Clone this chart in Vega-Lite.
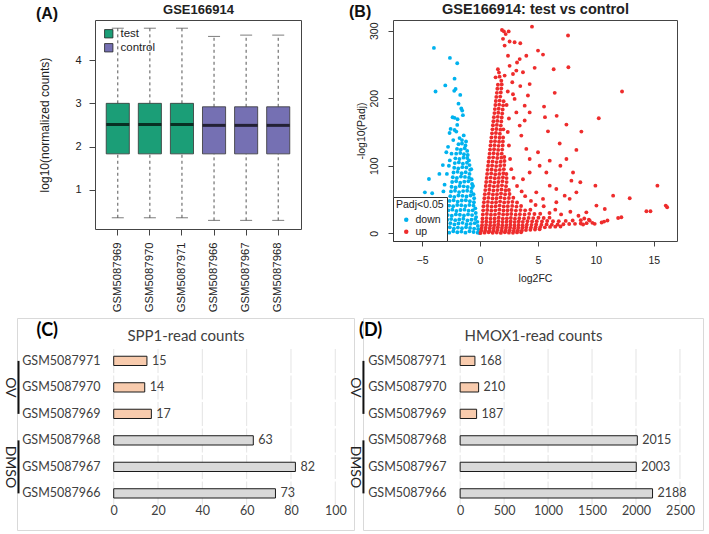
{
  "$schema": "https://vega.github.io/schema/vega-lite/v6.json",
  "background": "white",
  "padding": {"left": 2, "top": 0, "right": 2, "bottom": 1},
  "config": {
    "font": "Liberation Sans",
    "view": {"stroke": null},
    "axis": {"labelFont": "Liberation Sans", "titleFont": "Liberation Sans", "labelColor": "#222", "titleColor": "#222", "tickColor": "#444", "domainColor": "#444", "grid": false, "labelFlush": false, "labelOverlap": false},
    "legend": {"labelFont": "Liberation Sans", "titleFont": "Liberation Sans", "labelColor": "#222", "titleColor": "#222"},
    "title": {"font": "Liberation Sans", "color": "#111"}
  },
  "datasets": {
    "boxes": [
      {"sample": "GSM5087969", "group": "test", "lower": 0.35, "q1": 1.83, "median": 2.51, "q3": 3.0, "upper": 4.74},
      {"sample": "GSM5087970", "group": "test", "lower": 0.35, "q1": 1.83, "median": 2.51, "q3": 3.0, "upper": 4.74},
      {"sample": "GSM5087971", "group": "test", "lower": 0.35, "q1": 1.83, "median": 2.51, "q3": 3.0, "upper": 4.74},
      {"sample": "GSM5087966", "group": "control", "lower": 0.29, "q1": 1.83, "median": 2.49, "q3": 2.92, "upper": 4.55},
      {"sample": "GSM5087967", "group": "control", "lower": 0.29, "q1": 1.83, "median": 2.49, "q3": 2.92, "upper": 4.58},
      {"sample": "GSM5087968", "group": "control", "lower": 0.29, "q1": 1.83, "median": 2.49, "q3": 2.92, "upper": 4.58}
    ],
    "spp1": [
      {"sample": "GSM5087971", "group": "OV", "count": 15},
      {"sample": "GSM5087970", "group": "OV", "count": 14},
      {"sample": "GSM5087969", "group": "OV", "count": 17},
      {"sample": "GSM5087968", "group": "DMSO", "count": 63},
      {"sample": "GSM5087967", "group": "DMSO", "count": 82},
      {"sample": "GSM5087966", "group": "DMSO", "count": 73}
    ],
    "hmox1": [
      {"sample": "GSM5087971", "group": "OV", "count": 168},
      {"sample": "GSM5087970", "group": "OV", "count": 210},
      {"sample": "GSM5087969", "group": "OV", "count": 187},
      {"sample": "GSM5087968", "group": "DMSO", "count": 2015},
      {"sample": "GSM5087967", "group": "DMSO", "count": 2003},
      {"sample": "GSM5087966", "group": "DMSO", "count": 2188}
    ],
    "groups": [
      {"group": "OV", "from": "GSM5087971", "to": "GSM5087969", "mid": "GSM5087970"},
      {"group": "DMSO", "from": "GSM5087968", "to": "GSM5087966", "mid": "GSM5087967"}
    ],
    "volcano": [
      {"fc":-3.0,"p":2,"g":"down"},{"fc":-2.65,"p":1,"g":"down"},{"fc":-2.3,"p":3,"g":"down"},{"fc":-1.95,"p":1.5,"g":"down"},{"fc":-1.6,"p":2.5,"g":"down"},{"fc":-1.25,"p":1,"g":"down"},{"fc":-0.9,"p":3,"g":"down"},{"fc":-0.55,"p":2,"g":"down"},{"fc":-0.2,"p":1,"g":"down"},{"fc":-0.05,"p":0.5,"g":"down"},
      {"fc":-2.94,"p":8,"g":"down"},{"fc":-2.6,"p":9,"g":"down"},{"fc":-2.25,"p":7,"g":"down"},{"fc":-1.9,"p":8.5,"g":"down"},{"fc":-1.55,"p":7.5,"g":"down"},{"fc":-1.2,"p":9,"g":"down"},{"fc":-0.85,"p":8,"g":"down"},{"fc":-0.5,"p":7,"g":"down"},{"fc":-0.15,"p":6,"g":"down"},
      {"fc":-2.89,"p":14,"g":"down"},{"fc":-2.55,"p":15,"g":"down"},{"fc":-2.2,"p":13,"g":"down"},{"fc":-1.85,"p":14.5,"g":"down"},{"fc":-1.5,"p":15.5,"g":"down"},{"fc":-1.15,"p":13.5,"g":"down"},{"fc":-0.8,"p":14,"g":"down"},{"fc":-0.45,"p":15,"g":"down"},{"fc":-0.18,"p":11,"g":"down"},
      {"fc":-2.82,"p":20,"g":"down"},{"fc":-2.48,"p":21,"g":"down"},{"fc":-2.13,"p":19.5,"g":"down"},{"fc":-1.78,"p":20.5,"g":"down"},{"fc":-1.43,"p":21.5,"g":"down"},{"fc":-1.08,"p":19,"g":"down"},{"fc":-0.73,"p":20,"g":"down"},{"fc":-0.4,"p":21,"g":"down"},{"fc":-0.22,"p":17,"g":"down"},
      {"fc":-2.78,"p":27,"g":"down"},{"fc":-2.43,"p":26,"g":"down"},{"fc":-2.08,"p":28,"g":"down"},{"fc":-1.73,"p":27.5,"g":"down"},{"fc":-1.38,"p":26.5,"g":"down"},{"fc":-1.03,"p":28,"g":"down"},{"fc":-0.68,"p":27,"g":"down"},{"fc":-0.33,"p":24,"g":"down"},
      {"fc":-2.72,"p":34,"g":"down"},{"fc":-2.38,"p":35,"g":"down"},{"fc":-2.03,"p":33,"g":"down"},{"fc":-1.68,"p":34.5,"g":"down"},{"fc":-1.33,"p":35,"g":"down"},{"fc":-0.98,"p":33.5,"g":"down"},{"fc":-0.63,"p":34,"g":"down"},{"fc":-0.36,"p":30,"g":"down"},
      {"fc":-2.66,"p":41,"g":"down"},{"fc":-2.31,"p":40,"g":"down"},{"fc":-1.96,"p":42,"g":"down"},{"fc":-1.61,"p":41.5,"g":"down"},{"fc":-1.26,"p":40.5,"g":"down"},{"fc":-0.91,"p":42,"g":"down"},{"fc":-0.56,"p":41,"g":"down"},{"fc":-0.4,"p":37,"g":"down"},
      {"fc":-2.62,"p":48,"g":"down"},{"fc":-2.27,"p":49,"g":"down"},{"fc":-1.92,"p":47,"g":"down"},{"fc":-1.57,"p":48.5,"g":"down"},{"fc":-1.22,"p":49,"g":"down"},{"fc":-0.87,"p":47.5,"g":"down"},{"fc":-0.52,"p":46,"g":"down"},
      {"fc":-2.56,"p":55,"g":"down"},{"fc":-2.21,"p":54,"g":"down"},{"fc":-1.86,"p":56,"g":"down"},{"fc":-1.51,"p":55.5,"g":"down"},{"fc":-1.16,"p":54.5,"g":"down"},{"fc":-0.81,"p":56,"g":"down"},{"fc":-0.5,"p":52,"g":"down"},
      {"fc":-2.5,"p":62,"g":"down"},{"fc":-2.15,"p":63,"g":"down"},{"fc":-1.8,"p":61,"g":"down"},{"fc":-1.45,"p":62.5,"g":"down"},{"fc":-1.1,"p":63,"g":"down"},{"fc":-0.75,"p":61.5,"g":"down"},{"fc":-0.55,"p":58,"g":"down"},
      {"fc":-2.45,"p":69,"g":"down"},{"fc":-2.1,"p":68,"g":"down"},{"fc":-1.75,"p":70,"g":"down"},{"fc":-1.4,"p":69.5,"g":"down"},{"fc":-1.05,"p":68.5,"g":"down"},{"fc":-0.7,"p":67,"g":"down"},
      {"fc":-2.4,"p":76,"g":"down"},{"fc":-2.05,"p":77,"g":"down"},{"fc":-1.7,"p":75,"g":"down"},{"fc":-1.35,"p":76.5,"g":"down"},{"fc":-1.0,"p":77,"g":"down"},{"fc":-0.68,"p":73,"g":"down"},
      {"fc":-2.34,"p":83,"g":"down"},{"fc":-1.99,"p":82,"g":"down"},{"fc":-1.64,"p":84,"g":"down"},{"fc":-1.29,"p":83.5,"g":"down"},{"fc":-0.94,"p":82.5,"g":"down"},{"fc":-0.72,"p":80,"g":"down"},
      {"fc":-2.28,"p":90,"g":"down"},{"fc":-1.93,"p":91,"g":"down"},{"fc":-1.58,"p":89,"g":"down"},{"fc":-1.23,"p":90.5,"g":"down"},{"fc":-0.9,"p":88,"g":"down"},
      {"fc":-2.22,"p":97,"g":"down"},{"fc":-1.87,"p":96,"g":"down"},{"fc":-1.52,"p":98,"g":"down"},{"fc":-1.17,"p":97.5,"g":"down"},{"fc":-0.85,"p":94,"g":"down"},
      {"fc":-2.17,"p":104,"g":"down"},{"fc":-1.82,"p":105,"g":"down"},{"fc":-1.47,"p":103,"g":"down"},{"fc":-1.12,"p":104.5,"g":"down"},{"fc":-0.9,"p":101,"g":"down"},
      {"fc":-2.12,"p":111,"g":"down"},{"fc":-1.77,"p":110,"g":"down"},{"fc":-1.42,"p":112,"g":"down"},{"fc":-1.1,"p":111.5,"g":"down"},{"fc":-0.95,"p":108,"g":"down"},
      {"fc":-2.05,"p":118,"g":"down"},{"fc":-1.7,"p":119,"g":"down"},{"fc":-1.38,"p":117,"g":"down"},{"fc":-1.05,"p":116,"g":"down"},
      {"fc":-1.98,"p":125,"g":"down"},{"fc":-1.65,"p":124,"g":"down"},{"fc":-1.32,"p":126,"g":"down"},{"fc":-1.1,"p":122,"g":"down"},
      {"fc":-1.85,"p":132,"g":"down"},{"fc":-1.55,"p":133,"g":"down"},{"fc":-1.25,"p":130,"g":"down"},
      {"fc":-3.97,"p":274.6,"g":"down"},{"fc":-2.59,"p":259.8,"g":"down"},{"fc":-1.96,"p":251.9,"g":"down"},{"fc":-2.19,"p":229,"g":"down"},{"fc":-2.1,"p":213.8,"g":"down"},{"fc":-2.22,"p":211,"g":"down"},{"fc":-3.83,"p":210,"g":"down"},{"fc":-2.99,"p":219,"g":"down"},{"fc":-1.61,"p":185,"g":"down"},{"fc":-1.53,"p":181.7,"g":"down"},{"fc":-1.47,"p":175,"g":"down"},{"fc":-2.36,"p":171.9,"g":"down"},{"fc":-2.19,"p":171,"g":"down"},{"fc":-1.93,"p":169,"g":"down"},{"fc":-1.96,"p":160.5,"g":"down"},{"fc":-2.53,"p":154.6,"g":"down"},{"fc":-2.19,"p":153,"g":"down"},{"fc":-2.62,"p":148.6,"g":"down"},{"fc":-2.04,"p":150.6,"g":"down"},{"fc":-1.55,"p":138,"g":"down"},{"fc":-1.76,"p":141,"g":"down"},{"fc":-3.2,"p":101,"g":"down"},{"fc":-2.68,"p":100,"g":"down"},{"fc":-4.4,"p":80.5,"g":"down"},{"fc":-4.75,"p":60.7,"g":"down"},{"fc":-4.12,"p":59.3,"g":"down"},{"fc":-3.68,"p":51,"g":"down"},{"fc":-1.4,"p":145,"g":"down"},{"fc":-2.3,"p":138,"g":"down"},{"fc":-2.45,"p":118,"g":"down"},{"fc":-2.6,"p":108,"g":"down"},{"fc":-2.85,"p":88,"g":"down"},{"fc":-3.05,"p":72,"g":"down"},{"fc":-3.15,"p":62,"g":"down"},{"fc":-3.3,"p":45,"g":"down"},{"fc":-3.5,"p":35,"g":"down"},{"fc":-3.4,"p":22,"g":"down"},{"fc":-3.8,"p":15,"g":"down"},{"fc":-3.25,"p":8,"g":"down"},{"fc":-2.75,"p":128,"g":"down"},{"fc":-1.2,"p":136,"g":"down"},{"fc":-0.75,"p":95,"g":"down"},{"fc":-0.6,"p":70,"g":"down"},{"fc":-1.85,"p":192,"g":"down"},{"fc":-1.7,"p":205,"g":"down"},{"fc":-2.9,"p":120,"g":"down"},{"fc":-3.5,"p":88,"g":"down"},
      {"fc":0.05,"p":0.5,"g":"up"},{"fc":0.4,"p":1,"g":"up"},{"fc":0.75,"p":1.5,"g":"up"},{"fc":1.1,"p":0.8,"g":"up"},{"fc":1.45,"p":1.2,"g":"up"},{"fc":1.8,"p":0.6,"g":"up"},{"fc":2.15,"p":1.4,"g":"up"},{"fc":2.5,"p":1,"g":"up"},{"fc":2.85,"p":0.7,"g":"up"},{"fc":3.2,"p":1.3,"g":"up"},{"fc":3.55,"p":1.6,"g":"up"},
      {"fc":0.12,"p":4,"g":"up"},{"fc":0.47,"p":4.5,"g":"up"},{"fc":0.82,"p":3.5,"g":"up"},{"fc":1.17,"p":4,"g":"up"},{"fc":1.52,"p":5,"g":"up"},{"fc":1.87,"p":3.8,"g":"up"},{"fc":2.22,"p":4.2,"g":"up"},{"fc":2.57,"p":4.6,"g":"up"},{"fc":2.92,"p":3.6,"g":"up"},{"fc":3.27,"p":4.4,"g":"up"},{"fc":3.62,"p":4,"g":"up"},{"fc":3.97,"p":4.8,"g":"up"},{"fc":4.35,"p":5.2,"g":"up"},{"fc":4.75,"p":5.6,"g":"up"},{"fc":5.15,"p":6,"g":"up"},
      {"fc":0.15,"p":8,"g":"up"},{"fc":0.5,"p":8.5,"g":"up"},{"fc":0.85,"p":7.5,"g":"up"},{"fc":1.2,"p":8,"g":"up"},{"fc":1.55,"p":9,"g":"up"},{"fc":1.9,"p":7.8,"g":"up"},{"fc":2.25,"p":8.2,"g":"up"},{"fc":2.6,"p":8.6,"g":"up"},{"fc":2.95,"p":7.6,"g":"up"},{"fc":3.3,"p":8.4,"g":"up"},{"fc":3.65,"p":8,"g":"up"},{"fc":4.0,"p":8.8,"g":"up"},{"fc":4.4,"p":8.5,"g":"up"},{"fc":4.8,"p":9,"g":"up"},{"fc":5.2,"p":9.2,"g":"up"},{"fc":5.6,"p":8.8,"g":"up"},{"fc":6.05,"p":9.5,"g":"up"},{"fc":6.5,"p":9.8,"g":"up"},{"fc":6.95,"p":10,"g":"up"},
      {"fc":0.18,"p":12,"g":"up"},{"fc":0.53,"p":12.5,"g":"up"},{"fc":0.88,"p":11.5,"g":"up"},{"fc":1.23,"p":12,"g":"up"},{"fc":1.58,"p":13,"g":"up"},{"fc":1.93,"p":11.8,"g":"up"},{"fc":2.28,"p":12.2,"g":"up"},{"fc":2.63,"p":12.6,"g":"up"},{"fc":2.98,"p":11.6,"g":"up"},{"fc":3.33,"p":12.4,"g":"up"},{"fc":3.68,"p":12,"g":"up"},{"fc":4.05,"p":12.8,"g":"up"},{"fc":4.45,"p":12.5,"g":"up"},{"fc":4.85,"p":13,"g":"up"},{"fc":5.3,"p":12.6,"g":"up"},{"fc":5.75,"p":13.2,"g":"up"},{"fc":6.2,"p":12.8,"g":"up"},{"fc":6.7,"p":13,"g":"up"},{"fc":7.2,"p":13.4,"g":"up"},{"fc":7.7,"p":13.8,"g":"up"},{"fc":8.2,"p":14,"g":"up"},{"fc":8.7,"p":14.5,"g":"up"},{"fc":9.2,"p":15,"g":"up"},{"fc":9.7,"p":15.5,"g":"up"},
      {"fc":0.2,"p":17,"g":"up"},{"fc":0.55,"p":17.5,"g":"up"},{"fc":0.9,"p":16.5,"g":"up"},{"fc":1.25,"p":17,"g":"up"},{"fc":1.6,"p":18,"g":"up"},{"fc":1.95,"p":16.8,"g":"up"},{"fc":2.3,"p":17.2,"g":"up"},{"fc":2.65,"p":17.6,"g":"up"},{"fc":3.0,"p":16.6,"g":"up"},{"fc":3.35,"p":17.4,"g":"up"},{"fc":3.7,"p":17,"g":"up"},{"fc":4.1,"p":17.8,"g":"up"},{"fc":4.5,"p":17.5,"g":"up"},{"fc":4.9,"p":18,"g":"up"},{"fc":5.35,"p":17.6,"g":"up"},{"fc":5.8,"p":18.2,"g":"up"},{"fc":6.3,"p":17.8,"g":"up"},{"fc":6.8,"p":18,"g":"up"},{"fc":7.4,"p":18.4,"g":"up"},{"fc":8.0,"p":19,"g":"up"},{"fc":8.7,"p":19.5,"g":"up"},{"fc":9.4,"p":20,"g":"up"},
      {"fc":0.22,"p":22,"g":"up"},{"fc":0.57,"p":22.5,"g":"up"},{"fc":0.92,"p":21.5,"g":"up"},{"fc":1.27,"p":22,"g":"up"},{"fc":1.62,"p":23,"g":"up"},{"fc":1.97,"p":21.8,"g":"up"},{"fc":2.32,"p":22.2,"g":"up"},{"fc":2.67,"p":22.6,"g":"up"},{"fc":3.02,"p":21.6,"g":"up"},{"fc":3.4,"p":22.4,"g":"up"},{"fc":3.8,"p":22,"g":"up"},{"fc":4.2,"p":22.8,"g":"up"},{"fc":4.6,"p":22.5,"g":"up"},{"fc":5.05,"p":23,"g":"up"},{"fc":5.5,"p":22.6,"g":"up"},{"fc":6.0,"p":23.2,"g":"up"},
      {"fc":0.25,"p":28,"g":"up"},{"fc":0.6,"p":28.5,"g":"up"},{"fc":0.95,"p":27.5,"g":"up"},{"fc":1.3,"p":28,"g":"up"},{"fc":1.65,"p":29,"g":"up"},{"fc":2.0,"p":27.8,"g":"up"},{"fc":2.35,"p":28.2,"g":"up"},{"fc":2.7,"p":28.6,"g":"up"},{"fc":3.08,"p":27.6,"g":"up"},{"fc":3.45,"p":28.4,"g":"up"},{"fc":3.85,"p":28,"g":"up"},{"fc":4.25,"p":28.8,"g":"up"},{"fc":4.7,"p":28.5,"g":"up"},{"fc":5.2,"p":29,"g":"up"},
      {"fc":0.28,"p":34,"g":"up"},{"fc":0.63,"p":34.5,"g":"up"},{"fc":0.98,"p":33.5,"g":"up"},{"fc":1.33,"p":34,"g":"up"},{"fc":1.68,"p":35,"g":"up"},{"fc":2.03,"p":33.8,"g":"up"},{"fc":2.38,"p":34.2,"g":"up"},{"fc":2.73,"p":34.6,"g":"up"},{"fc":3.1,"p":33.6,"g":"up"},{"fc":3.5,"p":34.4,"g":"up"},{"fc":3.9,"p":34,"g":"up"},{"fc":4.35,"p":34.8,"g":"up"},
      {"fc":0.3,"p":40,"g":"up"},{"fc":0.65,"p":40.5,"g":"up"},{"fc":1.0,"p":39.5,"g":"up"},{"fc":1.35,"p":40,"g":"up"},{"fc":1.7,"p":41,"g":"up"},{"fc":2.05,"p":39.8,"g":"up"},{"fc":2.4,"p":40.2,"g":"up"},{"fc":2.78,"p":40.6,"g":"up"},{"fc":3.15,"p":39.6,"g":"up"},{"fc":3.55,"p":40.4,"g":"up"},
      {"fc":0.34,"p":46,"g":"up"},{"fc":0.69,"p":46.5,"g":"up"},{"fc":1.04,"p":45.5,"g":"up"},{"fc":1.39,"p":46,"g":"up"},{"fc":1.74,"p":47,"g":"up"},{"fc":2.09,"p":45.8,"g":"up"},{"fc":2.44,"p":46.2,"g":"up"},{"fc":2.8,"p":46.6,"g":"up"},{"fc":3.2,"p":45.6,"g":"up"},
      {"fc":0.38,"p":52,"g":"up"},{"fc":0.73,"p":52.5,"g":"up"},{"fc":1.08,"p":51.5,"g":"up"},{"fc":1.43,"p":52,"g":"up"},{"fc":1.78,"p":53,"g":"up"},{"fc":2.13,"p":51.8,"g":"up"},{"fc":2.5,"p":52.2,"g":"up"},{"fc":2.88,"p":52.6,"g":"up"},
      {"fc":0.42,"p":58,"g":"up"},{"fc":0.77,"p":58.5,"g":"up"},{"fc":1.12,"p":57.5,"g":"up"},{"fc":1.47,"p":58,"g":"up"},{"fc":1.82,"p":59,"g":"up"},{"fc":2.17,"p":57.8,"g":"up"},{"fc":2.55,"p":58.2,"g":"up"},
      {"fc":0.46,"p":64,"g":"up"},{"fc":0.81,"p":64.5,"g":"up"},{"fc":1.16,"p":63.5,"g":"up"},{"fc":1.51,"p":64,"g":"up"},{"fc":1.86,"p":65,"g":"up"},{"fc":2.21,"p":63.8,"g":"up"},{"fc":2.5,"p":64.2,"g":"up"},
      {"fc":0.5,"p":70,"g":"up"},{"fc":0.85,"p":70.5,"g":"up"},{"fc":1.2,"p":69.5,"g":"up"},{"fc":1.55,"p":70,"g":"up"},{"fc":1.9,"p":71,"g":"up"},{"fc":2.25,"p":69.8,"g":"up"},
      {"fc":0.54,"p":76,"g":"up"},{"fc":0.89,"p":76.5,"g":"up"},{"fc":1.24,"p":75.5,"g":"up"},{"fc":1.59,"p":76,"g":"up"},{"fc":1.94,"p":77,"g":"up"},{"fc":2.3,"p":75.8,"g":"up"},
      {"fc":0.58,"p":82,"g":"up"},{"fc":0.93,"p":82.5,"g":"up"},{"fc":1.28,"p":81.5,"g":"up"},{"fc":1.63,"p":82,"g":"up"},{"fc":1.98,"p":83,"g":"up"},{"fc":2.3,"p":81.8,"g":"up"},
      {"fc":0.62,"p":88,"g":"up"},{"fc":0.97,"p":88.5,"g":"up"},{"fc":1.32,"p":87.5,"g":"up"},{"fc":1.67,"p":88,"g":"up"},{"fc":2.02,"p":89,"g":"up"},{"fc":2.28,"p":87.8,"g":"up"},
      {"fc":0.66,"p":94,"g":"up"},{"fc":1.01,"p":94.5,"g":"up"},{"fc":1.36,"p":93.5,"g":"up"},{"fc":1.71,"p":94,"g":"up"},{"fc":2.06,"p":95,"g":"up"},
      {"fc":0.7,"p":100,"g":"up"},{"fc":1.05,"p":100.5,"g":"up"},{"fc":1.4,"p":99.5,"g":"up"},{"fc":1.75,"p":100,"g":"up"},{"fc":2.1,"p":101,"g":"up"},
      {"fc":0.74,"p":106,"g":"up"},{"fc":1.09,"p":106.5,"g":"up"},{"fc":1.44,"p":105.5,"g":"up"},{"fc":1.79,"p":106,"g":"up"},{"fc":2.12,"p":107,"g":"up"},
      {"fc":0.79,"p":112,"g":"up"},{"fc":1.14,"p":112.5,"g":"up"},{"fc":1.49,"p":111.5,"g":"up"},{"fc":1.84,"p":112,"g":"up"},{"fc":2.1,"p":113,"g":"up"},
      {"fc":0.83,"p":118,"g":"up"},{"fc":1.18,"p":118.5,"g":"up"},{"fc":1.53,"p":117.5,"g":"up"},{"fc":1.88,"p":118,"g":"up"},
      {"fc":0.87,"p":124,"g":"up"},{"fc":1.22,"p":124.5,"g":"up"},{"fc":1.57,"p":123.5,"g":"up"},{"fc":1.92,"p":124,"g":"up"},
      {"fc":0.91,"p":130,"g":"up"},{"fc":1.26,"p":130.5,"g":"up"},{"fc":1.61,"p":129.5,"g":"up"},{"fc":1.96,"p":130,"g":"up"},
      {"fc":0.95,"p":136,"g":"up"},{"fc":1.3,"p":136.5,"g":"up"},{"fc":1.65,"p":135.5,"g":"up"},{"fc":1.98,"p":136,"g":"up"},
      {"fc":0.99,"p":142,"g":"up"},{"fc":1.34,"p":142.5,"g":"up"},{"fc":1.69,"p":141.5,"g":"up"},{"fc":2.0,"p":142,"g":"up"},
      {"fc":1.04,"p":148,"g":"up"},{"fc":1.38,"p":148.5,"g":"up"},{"fc":1.72,"p":147.5,"g":"up"},
      {"fc":1.08,"p":154,"g":"up"},{"fc":1.42,"p":154.5,"g":"up"},{"fc":1.76,"p":153.5,"g":"up"},{"fc":2.02,"p":154,"g":"up"},
      {"fc":1.12,"p":160,"g":"up"},{"fc":1.46,"p":160.5,"g":"up"},{"fc":1.8,"p":159.5,"g":"up"},
      {"fc":1.16,"p":166,"g":"up"},{"fc":1.5,"p":166.5,"g":"up"},{"fc":1.84,"p":165.5,"g":"up"},
      {"fc":1.2,"p":172,"g":"up"},{"fc":1.54,"p":172.5,"g":"up"},{"fc":1.88,"p":171.5,"g":"up"},
      {"fc":1.25,"p":178,"g":"up"},{"fc":1.58,"p":178.5,"g":"up"},{"fc":1.92,"p":177.5,"g":"up"},
      {"fc":1.29,"p":184,"g":"up"},{"fc":1.62,"p":184.5,"g":"up"},{"fc":1.96,"p":183.5,"g":"up"},
      {"fc":1.33,"p":190,"g":"up"},{"fc":1.66,"p":190.5,"g":"up"},{"fc":2.0,"p":189.5,"g":"up"},
      {"fc":1.37,"p":196,"g":"up"},{"fc":1.7,"p":196.5,"g":"up"},{"fc":2.04,"p":195.5,"g":"up"},
      {"fc":1.41,"p":202,"g":"up"},{"fc":1.75,"p":202.5,"g":"up"},
      {"fc":1.46,"p":208,"g":"up"},{"fc":1.8,"p":208.5,"g":"up"},
      {"fc":1.5,"p":214,"g":"up"},{"fc":1.84,"p":214.5,"g":"up"},
      {"fc":1.55,"p":220,"g":"up"},{"fc":1.88,"p":220.5,"g":"up"},
      {"fc":4.49,"p":306,"g":"up"},{"fc":1.9,"p":301,"g":"up"},{"fc":2.07,"p":299,"g":"up"},{"fc":2.48,"p":299,"g":"up"},{"fc":7.6,"p":293,"g":"up"},{"fc":2.99,"p":283,"g":"up"},{"fc":3.48,"p":281.5,"g":"up"},{"fc":2.56,"p":284,"g":"up"},{"fc":5.01,"p":270.6,"g":"up"},{"fc":5.44,"p":264.7,"g":"up"},{"fc":3.43,"p":258,"g":"up"},{"fc":4.0,"p":263,"g":"up"},{"fc":2.42,"p":263,"g":"up"},{"fc":4.72,"p":245,"g":"up"},{"fc":6.36,"p":243,"g":"up"},{"fc":7.63,"p":246,"g":"up"},{"fc":3.14,"p":241,"g":"up"},{"fc":3.71,"p":238.5,"g":"up"},{"fc":2.85,"p":236,"g":"up"},{"fc":2.13,"p":233.6,"g":"up"},{"fc":6.45,"p":208,"g":"up"},{"fc":12.26,"p":210,"g":"up"},{"fc":4.29,"p":221,"g":"up"},{"fc":3.48,"p":218,"g":"up"},{"fc":5.53,"p":187.7,"g":"up"},{"fc":5.61,"p":172,"g":"up"},{"fc":10.25,"p":170.4,"g":"up"},{"fc":6.62,"p":174,"g":"up"},{"fc":7.46,"p":161,"g":"up"},{"fc":8.75,"p":150.6,"g":"up"},{"fc":5.87,"p":151,"g":"up"},{"fc":8.32,"p":123.5,"g":"up"},{"fc":6.88,"p":133,"g":"up"},{"fc":5.01,"p":120,"g":"up"},{"fc":4.29,"p":110,"g":"up"},{"fc":6.02,"p":107.6,"g":"up"},{"fc":7.46,"p":110,"g":"up"},{"fc":6.94,"p":100,"g":"up"},{"fc":5.15,"p":100,"g":"up"},{"fc":5.73,"p":90,"g":"up"},{"fc":8.03,"p":90,"g":"up"},{"fc":7.89,"p":78,"g":"up"},{"fc":8.66,"p":75.6,"g":"up"},{"fc":9.96,"p":70.6,"g":"up"},{"fc":15.31,"p":70.6,"g":"up"},{"fc":12.92,"p":51.9,"g":"up"},{"fc":11.49,"p":55.8,"g":"up"},{"fc":10.05,"p":41,"g":"up"},{"fc":10.77,"p":36,"g":"up"},{"fc":14.36,"p":32.6,"g":"up"},{"fc":14.71,"p":32.6,"g":"up"},{"fc":16.03,"p":41,"g":"up"},{"fc":16.15,"p":38.5,"g":"up"},{"fc":11.92,"p":22.7,"g":"up"},{"fc":12.2,"p":23.7,"g":"up"},{"fc":10.71,"p":17.3,"g":"up"},{"fc":9.47,"p":18.8,"g":"up"},{"fc":9.18,"p":31,"g":"up"},{"fc":7.31,"p":55.8,"g":"up"},{"fc":6.59,"p":65.7,"g":"up"},{"fc":7.74,"p":51,"g":"up"},{"fc":8.32,"p":60.7,"g":"up"},{"fc":6.59,"p":46,"g":"up"},{"fc":5.44,"p":50.9,"g":"up"},{"fc":6.02,"p":70.6,"g":"up"},{"fc":4.86,"p":60.7,"g":"up"},{"fc":4.29,"p":90,"g":"up"},{"fc":3.71,"p":80,"g":"up"},{"fc":4.0,"p":125,"g":"up"},{"fc":3.57,"p":144.7,"g":"up"},{"fc":3.43,"p":159.5,"g":"up"},{"fc":3.14,"p":179,"g":"up"},{"fc":2.99,"p":199,"g":"up"},{"fc":2.85,"p":206,"g":"up"},{"fc":3.86,"p":189,"g":"up"},{"fc":4.14,"p":204,"g":"up"},{"fc":4.29,"p":179,"g":"up"},{"fc":3.86,"p":167,"g":"up"},{"fc":2.79,"p":223.7,"g":"up"},{"fc":3.2,"p":253,"g":"up"},{"fc":2.56,"p":248,"g":"up"},{"fc":1.84,"p":226,"g":"up"},{"fc":1.7,"p":232,"g":"up"},{"fc":1.64,"p":238,"g":"up"},{"fc":1.55,"p":243,"g":"up"},{"fc":1.35,"p":231,"g":"up"},{"fc":1.99,"p":288,"g":"up"},{"fc":2.22,"p":295,"g":"up"},{"fc":2.13,"p":278,"g":"up"},{"fc":6.0,"p":30,"g":"up"},{"fc":6.5,"p":35,"g":"up"},{"fc":7.0,"p":28,"g":"up"},{"fc":7.8,"p":32,"g":"up"},{"fc":8.5,"p":26,"g":"up"},{"fc":9.0,"p":22,"g":"up"},{"fc":5.5,"p":40,"g":"up"},{"fc":4.8,"p":42,"g":"up"},{"fc":4.4,"p":48,"g":"up"},{"fc":3.9,"p":55,"g":"up"},{"fc":3.6,"p":62,"g":"up"},{"fc":3.2,"p":70,"g":"up"},{"fc":2.9,"p":82,"g":"up"},{"fc":2.7,"p":95,"g":"up"},{"fc":2.6,"p":110,"g":"up"},{"fc":2.5,"p":130,"g":"up"},{"fc":2.4,"p":150,"g":"up"},{"fc":2.5,"p":170,"g":"up"},{"fc":2.3,"p":190,"g":"up"},{"fc":2.4,"p":210,"g":"up"},{"fc":10.5,"p":16,"g":"up"},{"fc":11.0,"p":19,"g":"up"},{"fc":9.9,"p":14,"g":"up"},{"fc":8.9,"p":13,"g":"up"}
    ]
  },
  "spacing": 4,
  "resolve": {"scale": {"fill": "independent", "color": "independent"}, "legend": {"fill": "independent", "color": "independent"}},
  "vconcat": [
    {
      "bounds": "flush",
      "spacing": 0,
      "resolve": {"scale": {"fill": "independent", "color": "independent"}, "legend": {"fill": "independent", "color": "independent"}},
      "hconcat": [
        {"width": 78, "height": 1, "view": {"stroke": null}, "data": {"values": []}, "mark": {"type": "point", "opacity": 0}},
        {
          "width": 206, "height": 209,
          "view": {"stroke": "#444", "strokeWidth": 1},
          "title": {"text": "(A)", "anchor": "start", "fontSize": 16, "fontWeight": "bold", "offset": -19, "dx": -3},
          "data": {"name": "boxes"},
          "encoding": {
            "x": {"field": "sample", "type": "nominal", "sort": null, "scale": {"paddingInner": 0, "paddingOuter": 0.21}, "axis": null}
          },
          "layer": [
            {
              "mark": {"type": "rule", "strokeDash": [3, 3], "color": "#555", "strokeWidth": 1},
              "encoding": {
                "x": {"field": "sample", "type": "nominal", "sort": null, "axis": {"orient": "bottom", "labelAngle": -90, "tickSize": 6, "labelPadding": 7, "labelFontSize": 11.3, "title": null, "domain": false}},
                "y": {"field": "q3", "type": "quantitative", "title": "log10(normalized counts)", "scale": {"domain": [0.09, 4.93], "nice": false, "zero": false}, "axis": {"values": [1, 2, 3, 4], "tickSize": 6, "labelPadding": 8, "labelFontSize": 11, "titleFontSize": 12, "titleFontWeight": "normal", "titlePadding": 23, "domain": false}},
                "y2": {"field": "upper"}
              }
            },
            {
              "mark": {"type": "rule", "strokeDash": [3, 3], "color": "#555", "strokeWidth": 1},
              "encoding": {"y": {"field": "lower", "type": "quantitative", "title": "log10(normalized counts)"}, "y2": {"field": "q1"}}
            },
            {
              "mark": {"type": "tick", "size": 12, "thickness": 1, "color": "#444"},
              "encoding": {"y": {"field": "upper", "type": "quantitative", "title": "log10(normalized counts)"}}
            },
            {
              "mark": {"type": "tick", "size": 12, "thickness": 1, "color": "#444"},
              "encoding": {"y": {"field": "lower", "type": "quantitative", "title": "log10(normalized counts)"}}
            },
            {
              "mark": {"type": "bar", "width": {"band": 0.72}, "stroke": "#333", "strokeWidth": 0.8},
              "encoding": {
                "y": {"field": "q1", "type": "quantitative", "title": "log10(normalized counts)"},
                "y2": {"field": "q3"},
                "fill": {"field": "group", "type": "nominal", "scale": {"domain": ["test", "control"], "range": ["#1B9E77", "#7570B3"]},
                  "legend": {"orient": "top-left", "title": null, "symbolType": "square", "symbolSize": 70, "symbolStrokeColor": "#222", "symbolStrokeWidth": 0.8, "labelFontSize": 11.5, "offset": 5, "padding": 3, "rowPadding": 1, "labelOffset": 6}}
              }
            },
            {
              "mark": {"type": "tick", "size": 23, "thickness": 3, "color": "#000"},
              "encoding": {
                "x": {"field": "sample", "type": "nominal", "sort": null, "axis": {"orient": "top", "title": "GSE166914", "labels": false, "ticks": false, "domain": false, "titleFontSize": 13, "titleFontWeight": "bold", "titlePadding": 4}},
                "y": {"field": "median", "type": "quantitative", "title": "log10(normalized counts)"}
              }
            }
          ],
          "resolve": {"axis": {"x": "independent"}}
        },
        {"width": 92, "height": 1, "view": {"stroke": null}, "data": {"values": []}, "mark": {"type": "point", "opacity": 0}},
        {
          "width": 284, "height": 221,
          "view": {"stroke": "#444", "strokeWidth": 1},
          "title": {"text": "(B)", "anchor": "start", "fontSize": 16, "fontWeight": "bold", "offset": -19, "dx": -7},
          "data": {"name": "volcano"},
          "layer": [
            {
              "transform": [{"filter": "datum.g === 'down'"}],
              "mark": {"type": "circle", "size": 15, "opacity": 1},
              "encoding": {
                "x": {"field": "fc", "type": "quantitative", "scale": {"domain": [-7.5, 17.0], "nice": false, "zero": false}, "axis": {"values": [-5, 0, 5, 10, 15], "tickSize": 5, "labelPadding": 9, "labelFontSize": 10.5, "title": "log2FC", "titleFontSize": 10.5, "titleFontWeight": "normal", "titlePadding": 8, "domain": false}},
                "y": {"field": "p", "type": "quantitative", "title": "-log10(Padj)", "scale": {"domain": [-11.4, 315.9], "nice": false, "zero": false}, "axis": {"values": [0, 50, 100, 150, 200, 250, 300], "labelAngle": -90, "tickSize": 5, "labelPadding": 9, "labelFontSize": 10.5, "titleFontSize": 10.5, "titleFontWeight": "normal", "titlePadding": 3, "domain": false}},
                "color": {"field": "g", "type": "nominal", "scale": {"domain": ["down", "up"], "range": ["#00B2EE", "#EE2C2C"]},
                  "legend": {"orient": "bottom-left", "title": "Padj<0.05", "offset": 0, "strokeColor": "#333", "fillColor": "white", "padding": 3, "symbolType": "circle", "symbolSize": 20, "symbolOffset": 5, "labelOffset": 4, "titleFontSize": 10.5, "titleFontWeight": "normal", "labelFontSize": 10.5, "rowPadding": 1, "titlePadding": 4}}
              }
            },
            {
              "transform": [{"filter": "datum.g === 'up'"}],
              "mark": {"type": "circle", "size": 15, "opacity": 1},
              "encoding": {
                "x": {"field": "fc", "type": "quantitative", "axis": {"orient": "top", "title": "GSE166914: test vs control", "labels": false, "ticks": false, "domain": false, "titleFontSize": 14.5, "titleFontWeight": "bold", "titlePadding": 4}},
                "y": {"field": "p", "type": "quantitative", "title": "-log10(Padj)"},
                "color": {"field": "g", "type": "nominal"}
              }
            }
          ],
          "resolve": {"axis": {"x": "independent"}}
        }
      ]
    },
    {
      "bounds": "flush",
      "spacing": 9,
      "resolve": {"scale": {"fill": "independent"}, "legend": {"fill": "independent"}},
      "hconcat": [
        {
          "width": 337, "height": 212,
          "view": {"stroke": "#D9D9D9", "strokeWidth": 1},
          "title": {"text": "(C)", "anchor": "start", "font": "Lato", "fontSize": 18, "fontWeight": "bold", "offset": -22, "dx": 34, "color": "#000"},
          "data": {"name": "spp1"},
          "encoding": {
            "y": {"field": "sample", "type": "nominal", "sort": null, "title": null,
              "scale": {"domain": ["GSM5087971", "GSM5087970", "GSM5087969", "GSM5087968", "GSM5087967", "GSM5087966"], "paddingInner": 0, "paddingOuter": 1.549, "align": 0.559},
              "axis": {"orient": "left", "offset": -85, "domain": false, "ticks": false, "tickSize": 0, "labelPadding": 2, "labelFont": "Lato", "labelFontSize": 12.5, "labelColor": "#404040"}}
          },
          "layer": [
            {"mark": {"type": "tick", "color": "#D9D9D9", "thickness": 1, "size": 24}, "encoding": {"x": {"datum": 0, "type": "quantitative", "axis": null}}},
            {"mark": {"type": "tick", "color": "#D9D9D9", "thickness": 1, "size": 24}, "encoding": {"x": {"datum": 20, "type": "quantitative", "axis": null}}},
            {"mark": {"type": "tick", "color": "#D9D9D9", "thickness": 1, "size": 24}, "encoding": {"x": {"datum": 40, "type": "quantitative", "axis": null}}},
            {"mark": {"type": "tick", "color": "#D9D9D9", "thickness": 1, "size": 24}, "encoding": {"x": {"datum": 60, "type": "quantitative", "axis": null}}},
            {"mark": {"type": "tick", "color": "#D9D9D9", "thickness": 1, "size": 24}, "encoding": {"x": {"datum": 80, "type": "quantitative", "axis": null}}},
            {"mark": {"type": "tick", "color": "#D9D9D9", "thickness": 1, "size": 24}, "encoding": {"x": {"datum": 100, "type": "quantitative", "axis": null}}},
            {
              "mark": {"type": "bar", "height": {"band": 0.35}, "stroke": "#1a1a1a", "strokeWidth": 1},
              "encoding": {
                "x": {"field": "count", "type": "quantitative", "scale": {"domain": [-43.64, 108.44], "nice": false, "zero": false},
                  "axis": {"orient": "bottom", "values": [0, 20, 40, 60, 80, 100], "format": "d", "offset": -26, "domain": false, "ticks": false, "labelPadding": 0, "labelFont": "Lato", "labelFontSize": 12.5, "labelColor": "#404040", "title": null}},
                "fill": {"field": "group", "type": "nominal", "scale": {"domain": ["OV", "DMSO"], "range": ["#F8CBAD", "#D9D9D9"]}, "legend": null}
              }
            },
            {
              "mark": {"type": "text", "align": "left", "dx": 5, "font": "Lato", "fontSize": 12.5, "color": "#404040"},
              "encoding": {
                "x": {"field": "count", "type": "quantitative", "axis": {"orient": "top", "title": "SPP1-read counts", "labels": false, "ticks": false, "domain": false, "offset": -25, "titlePadding": 0, "titleFont": "Lato", "titleFontSize": 15, "titleFontWeight": "normal", "titleColor": "#404040"}},
                "text": {"field": "count"}
              }
            },
            {
              "data": {"name": "groups"},
              "mark": {"type": "rule", "strokeWidth": 2, "color": "#111"},
              "encoding": {"x": {"datum": -42.96, "type": "quantitative", "axis": null}, "y": {"field": "from", "type": "nominal", "title": null}, "y2": {"field": "to"}}
            },
            {
              "data": {"name": "groups"},
              "mark": {"type": "text", "angle": 90, "font": "Lato", "fontSize": 14, "color": "#222"},
              "encoding": {"x": {"datum": -47.0, "type": "quantitative", "axis": null}, "y": {"field": "mid", "type": "nominal", "title": null}, "text": {"field": "group"}}
            }
          ],
          "resolve": {"axis": {"x": "independent"}}
        },
        {
          "width": 340, "height": 212,
          "view": {"stroke": "#D9D9D9", "strokeWidth": 1},
          "title": {"text": "(D)", "anchor": "start", "font": "Lato", "fontSize": 18, "fontWeight": "bold", "offset": -22, "dx": 11, "color": "#000"},
          "data": {"name": "hmox1"},
          "encoding": {
            "y": {"field": "sample", "type": "nominal", "sort": null, "title": null,
              "scale": {"domain": ["GSM5087971", "GSM5087970", "GSM5087969", "GSM5087968", "GSM5087967", "GSM5087966"], "paddingInner": 0, "paddingOuter": 1.549, "align": 0.559},
              "axis": {"orient": "left", "offset": -85, "domain": false, "ticks": false, "tickSize": 0, "labelPadding": 2, "labelFont": "Lato", "labelFontSize": 12.5, "labelColor": "#404040"}}
          },
          "layer": [
            {"mark": {"type": "tick", "color": "#D9D9D9", "thickness": 1, "size": 24}, "encoding": {"x": {"datum": 0, "type": "quantitative", "axis": null}}},
            {"mark": {"type": "tick", "color": "#D9D9D9", "thickness": 1, "size": 24}, "encoding": {"x": {"datum": 500, "type": "quantitative", "axis": null}}},
            {"mark": {"type": "tick", "color": "#D9D9D9", "thickness": 1, "size": 24}, "encoding": {"x": {"datum": 1000, "type": "quantitative", "axis": null}}},
            {"mark": {"type": "tick", "color": "#D9D9D9", "thickness": 1, "size": 24}, "encoding": {"x": {"datum": 1500, "type": "quantitative", "axis": null}}},
            {"mark": {"type": "tick", "color": "#D9D9D9", "thickness": 1, "size": 24}, "encoding": {"x": {"datum": 2000, "type": "quantitative", "axis": null}}},
            {"mark": {"type": "tick", "color": "#D9D9D9", "thickness": 1, "size": 24}, "encoding": {"x": {"datum": 2500, "type": "quantitative", "axis": null}}},
            {
              "mark": {"type": "bar", "height": {"band": 0.35}, "stroke": "#1a1a1a", "strokeWidth": 1},
              "encoding": {
                "x": {"field": "count", "type": "quantitative", "scale": {"domain": [-1105, 2762], "nice": false, "zero": false},
                  "axis": {"orient": "bottom", "values": [0, 500, 1000, 1500, 2000, 2500], "format": "d", "offset": -26, "domain": false, "ticks": false, "labelPadding": 0, "labelFont": "Lato", "labelFontSize": 12.5, "labelColor": "#404040", "title": null}},
                "fill": {"field": "group", "type": "nominal", "scale": {"domain": ["OV", "DMSO"], "range": ["#F8CBAD", "#D9D9D9"]}, "legend": null}
              }
            },
            {
              "mark": {"type": "text", "align": "left", "dx": 5, "font": "Lato", "fontSize": 12.5, "color": "#404040"},
              "encoding": {
                "x": {"field": "count", "type": "quantitative", "axis": {"orient": "top", "title": "HMOX1-read counts", "labels": false, "ticks": false, "domain": false, "offset": -25, "titlePadding": 0, "titleFont": "Lato", "titleFontSize": 15, "titleFontWeight": "normal", "titleColor": "#404040"}},
                "text": {"field": "count"}
              }
            },
            {
              "data": {"name": "groups"},
              "mark": {"type": "rule", "strokeWidth": 2, "color": "#111"},
              "encoding": {"x": {"datum": -1100, "type": "quantitative", "axis": null}, "y": {"field": "from", "type": "nominal", "title": null}, "y2": {"field": "to"}}
            },
            {
              "data": {"name": "groups"},
              "mark": {"type": "text", "angle": 90, "font": "Lato", "fontSize": 14, "color": "#222"},
              "encoding": {"x": {"datum": -1196, "type": "quantitative", "axis": null}, "y": {"field": "mid", "type": "nominal", "title": null}, "text": {"field": "group"}}
            }
          ],
          "resolve": {"axis": {"x": "independent"}}
        }
      ]
    }
  ]
}
